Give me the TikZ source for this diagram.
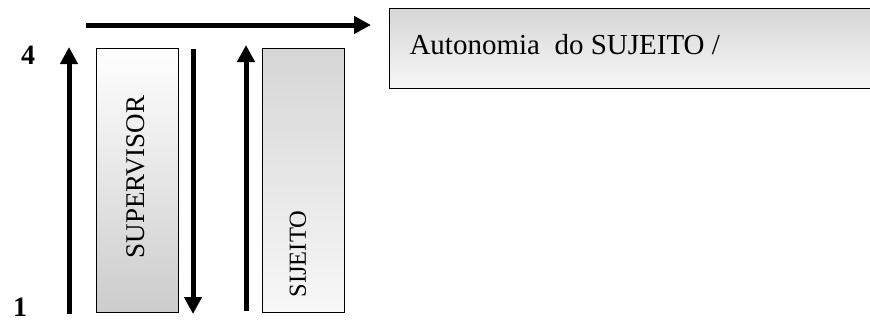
\documentclass[tikz,border=0pt]{standalone}
\usepackage{fontspec}
\setmainfont{Liberation Serif}
\usetikzlibrary{arrows.meta}
\tikzset{%
  bigarrow/.style={line width=5pt,-{Triangle[length=17pt,width=17pt]}},
  bar/.style={draw=black,line width=0.9pt,minimum width=82pt,minimum height=264pt,
              inner sep=0pt},
  lightdown/.style={top color=white,bottom color=black!20},
  darkdown/.style={top color=black!16,bottom color=black!3},
}
\begin{document}
\begin{tikzpicture}[x=1pt,y=-1pt]
              \clip (0,0) rectangle (870,324);
              \useasboundingbox (0,0) rectangle (870,324);
              \coordinate (T1) at (86,25);
              \coordinate (T2) at (371,25);
              \coordinate (L1) at (69,314);
              \coordinate (L2) at (69,47);
              \coordinate (D1) at (193,49);
              \coordinate (D2) at (193,314);
              \coordinate (U1) at (246,311);
              \coordinate (U2) at (246,45);
              \node[bar,lightdown] (sup) at (137,180) {};
              \node[rotate=90,font=\fontsize{27}{30}\selectfont] (suptext) at (136,177) {SUPERVISOR};
              \node[bar,darkdown] (sij) at (303,180) {};
              \node[rotate=90,font=\fontsize{24.5}{28}\selectfont] (sijtext) at (298,254) {SIJEITO};
              \node[draw=black,line width=1.2pt,darkdown,minimum width=500pt,minimum height=80pt,
                    anchor=north west] (aut) at (389,8) {};
              \node[anchor=west,font=\fontsize{29}{32}\selectfont] (auttext) at (406,45) {Autonomia\ \ do SUJEITO /};
              \node[font=\bfseries\fontsize{28}{30}\selectfont] (four) at (28,55) {4};
              \node[font=\bfseries\fontsize{28}{30}\selectfont] (one) at (20,307) {1};
              \draw[bigarrow] (T1) -- (T2);
              \draw[bigarrow] (L1) -- (L2);
              \draw[bigarrow] (D1) -- (D2);
              \draw[bigarrow] (U1) -- (U2);
          \end{tikzpicture}
\end{document}
